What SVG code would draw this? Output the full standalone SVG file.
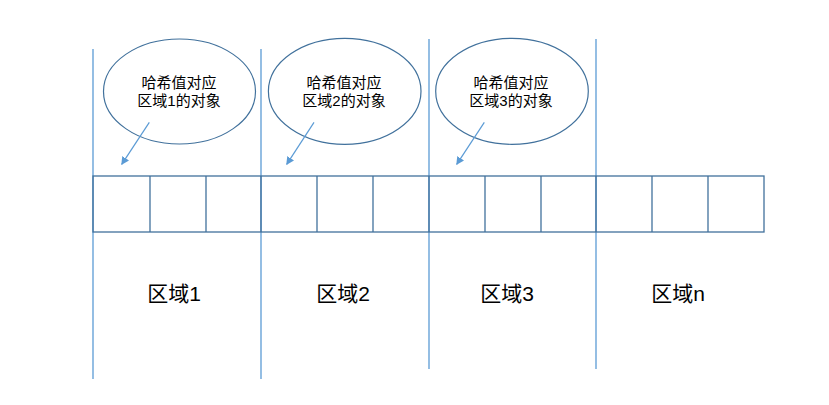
<svg xmlns="http://www.w3.org/2000/svg" width="829" height="405" viewBox="0 0 829 405">
<defs>
<style>
.div{stroke:#5b9bd5;stroke-width:1.3;fill:none}
.grid{stroke:#41719c;stroke-width:1.3;fill:none}
.ell{stroke:#41719c;stroke-width:1.2;fill:#ffffff}
.arr{stroke:#5b9bd5;stroke-width:1.2;fill:none}
.t{font-family:"Liberation Sans","Noto Sans CJK SC",sans-serif;fill:#000;text-anchor:middle}
.s{font-size:15px}
.b{font-size:21px}
</style>
<marker id="ah" viewBox="0 0 10 10" refX="9" refY="5" markerWidth="8" markerHeight="8" markerUnits="userSpaceOnUse" orient="auto">
<path d="M0,0 L10,5 L0,10 z" fill="#5b9bd5"/>
</marker>
</defs>
<rect width="829" height="405" fill="#ffffff"/>
<g id="dividers">
<line class="div" x1="93" y1="49" x2="93" y2="379"/>
<line class="div" x1="261" y1="49" x2="261" y2="379"/>
<line class="div" x1="429" y1="39" x2="429" y2="369"/>
<line class="div" x1="596" y1="39" x2="596" y2="369"/>
</g>
<g id="grid">
<rect class="grid" x="93" y="176" width="671" height="56"/>
<line class="grid" x1="150" y1="176" x2="150" y2="232"/>
<line class="grid" x1="206" y1="176" x2="206" y2="232"/>
<line class="grid" x1="261" y1="176" x2="261" y2="232"/>
<line class="grid" x1="317" y1="176" x2="317" y2="232"/>
<line class="grid" x1="373" y1="176" x2="373" y2="232"/>
<line class="grid" x1="429" y1="176" x2="429" y2="232"/>
<line class="grid" x1="485" y1="176" x2="485" y2="232"/>
<line class="grid" x1="541" y1="176" x2="541" y2="232"/>
<line class="grid" x1="596" y1="176" x2="596" y2="232"/>
<line class="grid" x1="652" y1="176" x2="652" y2="232"/>
<line class="grid" x1="708" y1="176" x2="708" y2="232"/>
</g>
<g id="node1">
<ellipse class="ell" cx="179.5" cy="91.5" rx="76" ry="52.5"/>
<text class="t s" x="179" y="88">哈希值对应</text>
<text class="t s" x="179" y="106">区域1的对象</text>
</g>
<g id="node2">
<ellipse class="ell" cx="344.7" cy="91.3" rx="76.3" ry="53"/>
<text class="t s" x="344" y="88">哈希值对应</text>
<text class="t s" x="344" y="106">区域2的对象</text>
</g>
<g id="node3">
<ellipse class="ell" cx="512" cy="91.3" rx="76.3" ry="53"/>
<text class="t s" x="511" y="88">哈希值对应</text>
<text class="t s" x="511" y="106">区域3的对象</text>
</g>
<g id="connectors">
<line class="arr" x1="149.3" y1="122.3" x2="121.7" y2="164.3" marker-end="url(#ah)"/>
<line class="arr" x1="314" y1="122.3" x2="286.7" y2="164.3" marker-end="url(#ah)"/>
<line class="arr" x1="484.3" y1="122.3" x2="456.7" y2="164.3" marker-end="url(#ah)"/>
</g>
<g id="labels">
<text class="t b" x="174" y="301">区域1</text>
<text class="t b" x="343" y="301">区域2</text>
<text class="t b" x="507" y="301">区域3</text>
<text class="t b" x="678" y="301">区域n</text>
</g>
</svg>
